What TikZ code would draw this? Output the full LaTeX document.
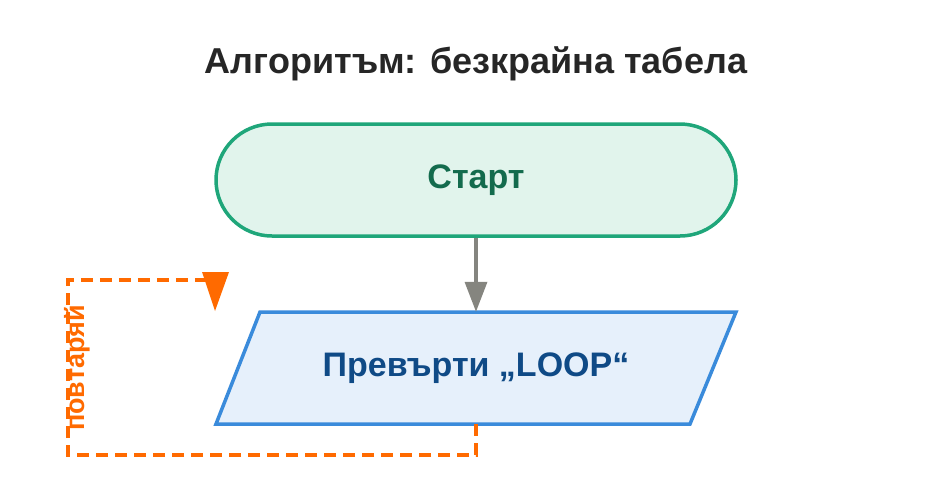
\documentclass[tikz,border=0pt]{standalone}
\usepackage{fontspec}
\setmainfont{Liberation Sans}
\usetikzlibrary{shapes.geometric,arrows.meta,positioning}
\definecolor{startline}{HTML}{1FA67A}
\definecolor{startfill}{HTML}{E1F4EC}
\definecolor{starttext}{HTML}{136B4D}
\definecolor{ioline}{HTML}{3A8BDB}
\definecolor{iofill}{HTML}{E6F0FB}
\definecolor{iotext}{HTML}{0F4A86}
\definecolor{loopcol}{HTML}{FF6A00}
\definecolor{flowcol}{HTML}{85857F}
\tikzset{
  terminal/.style={draw=startline,fill=startfill,line width=3.5pt,rounded corners=56pt,
    minimum width=520pt,minimum height=112pt,text=starttext,font=\fontsize{34}{40}\selectfont\bfseries},
  inout/.style={draw=ioline,fill=iofill,line width=3.5pt},
  iotxt/.style={minimum width=520pt,minimum height=112pt,text=iotext,font=\fontsize{34}{40}\selectfont\bfseries},
  flow/.style={draw=flowcol,line width=3.5pt,-{Triangle[length=30pt,width=22pt]}},
  repeat/.style={draw=loopcol,line width=4pt,dash pattern=on 12pt off 7pt}
}
\begin{document}
\begin{tikzpicture}[x=1pt,y=-1pt]
  \useasboundingbox (0,0) rectangle (952,488);
  % Title
  \node[font=\fontsize{36}{42}\selectfont\bfseries,text=black!85] (title) at (476,64) {Алгоритъм: безкрайна табела};

  % Blocks
  \node[terminal] (start) at (476,180) {Старт};
  \draw[inout] (260,312) -- (736,312) -- (690,424) -- (216,424) -- cycle;
  \node[iotxt] (io) at (476,368) {Превърти „LOOP“};
  \draw[flow] (start.south) -- (io.north);

  % Loop back
  \coordinate (corner) at (215,280);
  \coordinate (tip) at (215,311);
  \draw[repeat] (io.south) -- ++(0,31) -| (68,280) -- (corner);
  \fill[loopcol] (202,272) -- (229,272) -- (tip) -- cycle;
  \node[rotate=90,text=loopcol,font=\fontsize{27}{32}\selectfont\bfseries] (lbl) at (77,368) {повтаряй};
\end{tikzpicture}
\end{document}
